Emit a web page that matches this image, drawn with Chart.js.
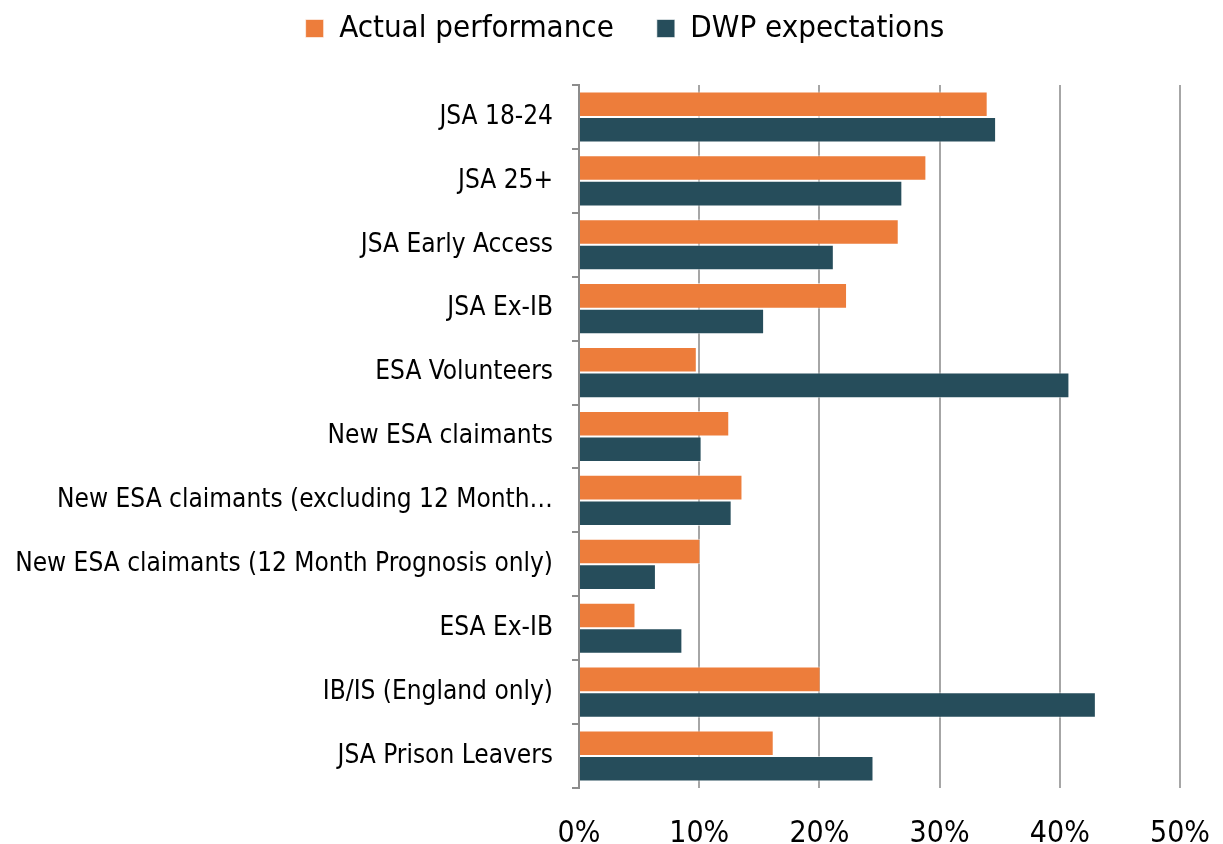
<!DOCTYPE html>
<html lang="en">
<head>
  <meta charset="UTF-8">
  <title>Actual performance vs DWP expectations</title>
  <script src="https://cdn.jsdelivr.net/npm/chart.js"></script>
  <style>
    html, body {
      margin: 0;
      padding: 0;
      background: #fff;
    }
    #chart-container {
      width: 1223px;
      height: 844px;
    }
  </style>
</head>
<body>
  <div id="chart-container">
    <canvas id="perfChart"></canvas>
  </div>

  <script>
    const categories = [
      'JSA 18-24',
      'JSA 25+',
      'JSA Early Access',
      'JSA Ex-IB',
      'ESA Volunteers',
      'New ESA claimants',
      'New ESA claimants (excluding 12 Month\u2026',
      'New ESA claimants (12 Month Prognosis only)',
      'ESA Ex-IB',
      'IB/IS (England only)',
      'JSA Prison Leavers'
    ];
    // percent values
    const actualPerformance = [34.0, 28.9, 26.6, 22.3, 9.8, 12.5, 13.6, 10.1, 4.7, 20.1, 16.2];
    const dwpExpectations   = [34.7, 26.9, 21.2, 15.4, 40.8, 10.2, 12.7, 6.4, 8.6, 43.0, 24.5];
    const xTicks = [0, 10, 20, 30, 40, 50];

    const fontFamily = '"DejaVu Sans Condensed", "DejaVu Sans", sans-serif';
    Chart.defaults.font.family = fontFamily;
    Chart.defaults.color = '#000';

    // more room under the legend, and centre it a bit right of the canvas middle
    const legendSpacer = {
      id: 'legendSpacer',
      beforeInit(chart) {
        const fit = chart.legend.fit;
        chart.legend.fit = function () {
          fit.call(this);
          this.height += 31;
        };
      },
      afterLayout(chart) {
        chart.legend.left += 70;
      }
    };

    const ctx = document.getElementById('perfChart').getContext('2d');
    new Chart(ctx, {
      type: 'bar',
      data: {
        labels: categories,
        datasets: [
          {
            label: 'Actual performance',
            data: actualPerformance,
            backgroundColor: '#ED7D3B',
            borderColor: 'rgba(255,255,255,0.6)',
            borderWidth: 1,
            categoryPercentage: 0.8,
            barPercentage: 1.0
          },
          {
            label: 'DWP expectations',
            data: dwpExpectations,
            backgroundColor: '#264D5B',
            borderColor: 'rgba(255,255,255,0.6)',
            borderWidth: 1,
            categoryPercentage: 0.8,
            barPercentage: 1.0
          }
        ]
      },
      plugins: [legendSpacer],
      options: {
        indexAxis: 'y',
        responsive: true,
        maintainAspectRatio: false,
        animation: false,
        layout: {
          padding: { top: -30, right: 43, left: 0, bottom: 0 }
        },
        plugins: {
          tooltip: { enabled: false },
          legend: {
            position: 'top',
            labels: {
              boxWidth: 18,
              boxHeight: 18,
              padding: 43,
              color: '#000',
              font: { size: 31 }
            }
          }
        },
        scales: {
          x: {
            min: 0,
            max: 50,
            afterBuildTicks: scale => {
              scale.ticks = xTicks.map(v => ({ value: v }));
            },
            afterFit: scale => {
              scale.height = 56;
              scale.paddingLeft = 0;
              scale.paddingRight = 0;
            },
            grid: {
              color: '#A6A6A6',
              lineWidth: 2,
              drawTicks: false
            },
            border: { display: false },
            ticks: {
              padding: 28,
              font: { size: 30 },
              color: '#000',
              callback: v => v + '%'
            }
          },
          y: {
            afterFit: scale => { scale.width = 579; },
            grid: {
              drawOnChartArea: false,
              drawTicks: true,
              tickLength: 7,
              color: '#8C8C8C',
              lineWidth: 2
            },
            border: { display: true, color: '#8C8C8C', width: 2 },
            ticks: {
              padding: 19,
              font: { size: 26 },
              color: '#000'
            }
          }
        }
      }
    });
  </script>
</body>
</html>
